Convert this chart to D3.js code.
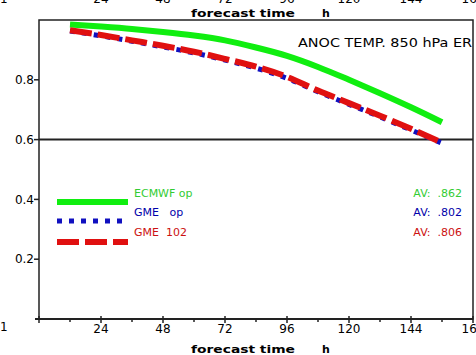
<!DOCTYPE html>
<html>
<head>
<meta charset="utf-8">
<script src="https://cdn.jsdelivr.net/npm/d3@7"></script>
<style>
  body { margin: 0; background: #fff; }
  svg { display: block; }
  text { font-family: "DejaVu Sans", sans-serif; }
</style>
</head>
<body>
<svg width="476" height="355"></svg>
<script>
// forecast hours (12h steps)
var hours = [12, 24, 36, 48, 60, 72, 84, 96, 108, 120, 132, 144, 156];

// anomaly correlation values
var ecmwfOp = [0.985, 0.978, 0.970, 0.960, 0.948, 0.932, 0.908, 0.880, 0.843, 0.800, 0.755, 0.708, 0.658];
var gmeOp   = [0.963, 0.947, 0.929, 0.910, 0.890, 0.866, 0.839, 0.805, 0.760, 0.718, 0.676, 0.632, 0.588];
var gme102  = [0.966, 0.950, 0.932, 0.914, 0.894, 0.870, 0.844, 0.810, 0.764, 0.722, 0.680, 0.636, 0.590];

var seriesNames = ["ECMWF op", "GME   op", "GME  102"];
var seriesAv = ["AV:  .862", "AV:  .802", "AV:  .806"];

var xTicks = [24, 48, 72, 96, 120, 144, 168];
var xMinor = [12, 36, 60, 84, 108, 132, 156];
var yTicks = [0.2, 0.4, 0.6, 0.8];
var refLine = 0.6;

var svg = d3.select("svg");

var x = d3.scaleLinear().domain([0, 168]).range([39, 473]),
    y = d3.scaleLinear().domain([0, 1]).range([319, 20]);

var series = [
  {name: seriesNames[0], av: seriesAv[0], values: ecmwfOp, color: "#10ee10", text: "#33cc33", width: 6, dash: null, ly: 202, ty: 193},
  {name: seriesNames[1], av: seriesAv[1], values: gmeOp, color: "#1010c0", text: "#0000aa", width: 5, dash: "5,7", ly: 221, ty: 212},
  {name: seriesNames[2], av: seriesAv[2], values: gme102, color: "#e01010", text: "#cc1111", width: 6, dash: "22,6", ly: 242, ty: 232}
];

// axis title helper: "forecast time" ... "h"
function axisTitle(yPos) {
  svg.append("text")
      .attr("x", 191).attr("y", yPos)
      .attr("textLength", 104)
      .attr("lengthAdjust", "spacingAndGlyphs")
      .style("font-size", "11px")
      .style("font-weight", "bold")
      .text("forecast time");
  svg.append("text")
      .attr("x", 322).attr("y", yPos)
      .style("font-size", "11px")
      .style("font-weight", "bold")
      .text("h");
}

// remnant of the panel above
var topPanel = svg.append("g");
topPanel.selectAll("text.tl")
    .data(xTicks)
    .enter().append("text")
    .attr("x", function(d) { return x(d); })
    .attr("y", 3)
    .attr("text-anchor", "middle")
    .style("font-size", "12px")
    .text(function(d) { return d; });
topPanel.append("text")
    .attr("x", 0).attr("y", 3)
    .style("font-size", "12px")
    .text("1");
axisTitle(17);

// frame
svg.append("rect")
    .attr("x", x(0)).attr("y", y(1))
    .attr("width", x(168) - x(0)).attr("height", y(0) - y(1))
    .attr("fill", "none")
    .attr("stroke", "#222")
    .attr("stroke-width", 1.5);

// reference line at 0.6
svg.append("line")
    .attr("x1", x(0)).attr("x2", x(168))
    .attr("y1", y(refLine)).attr("y2", y(refLine))
    .attr("stroke", "#222")
    .attr("stroke-width", 2);

// x axis
var xAxis = svg.append("g").attr("transform", "translate(0," + y(0) + ")");
xAxis.append("line")
    .attr("x1", x(0) - 4).attr("x2", x(168))
    .attr("stroke", "#222").attr("stroke-width", 2);
xAxis.selectAll("line.maj")
    .data([0].concat(xTicks))
    .enter().append("line")
    .attr("class", "maj")
    .attr("x1", function(d) { return x(d); }).attr("x2", function(d) { return x(d); })
    .attr("y1", -3).attr("y2", 4)
    .attr("stroke", "#222").attr("stroke-width", 1.5);
xAxis.selectAll("line.min")
    .data(xMinor)
    .enter().append("line")
    .attr("class", "min")
    .attr("x1", function(d) { return x(d); }).attr("x2", function(d) { return x(d); })
    .attr("y1", 0).attr("y2", 3)
    .attr("stroke", "#222").attr("stroke-width", 1.5);
xAxis.selectAll("text")
    .data(xTicks)
    .enter().append("text")
    .attr("x", function(d) { return x(d); })
    .attr("y", 14)
    .attr("text-anchor", "middle")
    .style("font-size", "12px")
    .text(function(d) { return d; });
svg.append("text")
    .attr("x", 0).attr("y", 331)
    .style("font-size", "12px")
    .text("1");
axisTitle(353);

// y axis
var yAxis = svg.append("g");
yAxis.selectAll("line")
    .data(yTicks)
    .enter().append("line")
    .attr("x1", x(0) - 5).attr("x2", x(0))
    .attr("y1", function(d) { return y(d); }).attr("y2", function(d) { return y(d); })
    .attr("stroke", "#222").attr("stroke-width", 1.5);
yAxis.selectAll("text")
    .data(yTicks)
    .enter().append("text")
    .attr("x", 34)
    .attr("y", function(d) { return y(d); })
    .attr("dy", "0.35em")
    .attr("text-anchor", "end")
    .style("font-size", "12px")
    .text(function(d) { return d3.format(".1f")(d); });

// title
svg.append("text")
    .attr("x", 298).attr("y", 47)
    .attr("textLength", 174)
    .attr("lengthAdjust", "spacingAndGlyphs")
    .style("font-size", "12px")
    .text("ANOC TEMP. 850 hPa ER");

// curves
var line = d3.line()
    .curve(d3.curveMonotoneX)
    .x(function(d, i) { return x(hours[i]); })
    .y(function(d) { return y(d); });

svg.selectAll("path.curve")
    .data(series)
    .enter().append("path")
    .attr("class", "curve")
    .attr("d", function(d) { return line(d.values); })
    .attr("fill", "none")
    .attr("stroke", function(d) { return d.color; })
    .attr("stroke-width", function(d) { return d.width; })
    .attr("stroke-dasharray", function(d) { return d.dash; });

// legend
var leg = svg.selectAll("g.leg")
    .data(series)
    .enter().append("g")
    .attr("class", "leg");
leg.append("line")
    .attr("x1", 57).attr("x2", 128)
    .attr("y1", function(d) { return d.ly; }).attr("y2", function(d) { return d.ly; })
    .attr("stroke", function(d) { return d.color; })
    .attr("stroke-width", function(d) { return d.width; })
    .attr("stroke-dasharray", function(d) { return d.dash; });
leg.append("text")
    .attr("x", 134)
    .attr("y", function(d) { return d.ty; })
    .attr("dy", "0.35em")
    .style("font-size", "11px")
    .style("white-space", "pre")
    .attr("fill", function(d) { return d.text; })
    .text(function(d) { return d.name; });
leg.append("text")
    .attr("x", 462)
    .attr("y", function(d) { return d.ty; })
    .attr("dy", "0.35em")
    .attr("text-anchor", "end")
    .style("font-size", "11px")
    .style("white-space", "pre")
    .attr("fill", function(d) { return d.text; })
    .text(function(d) { return d.av; });
</script>
</body>
</html>
